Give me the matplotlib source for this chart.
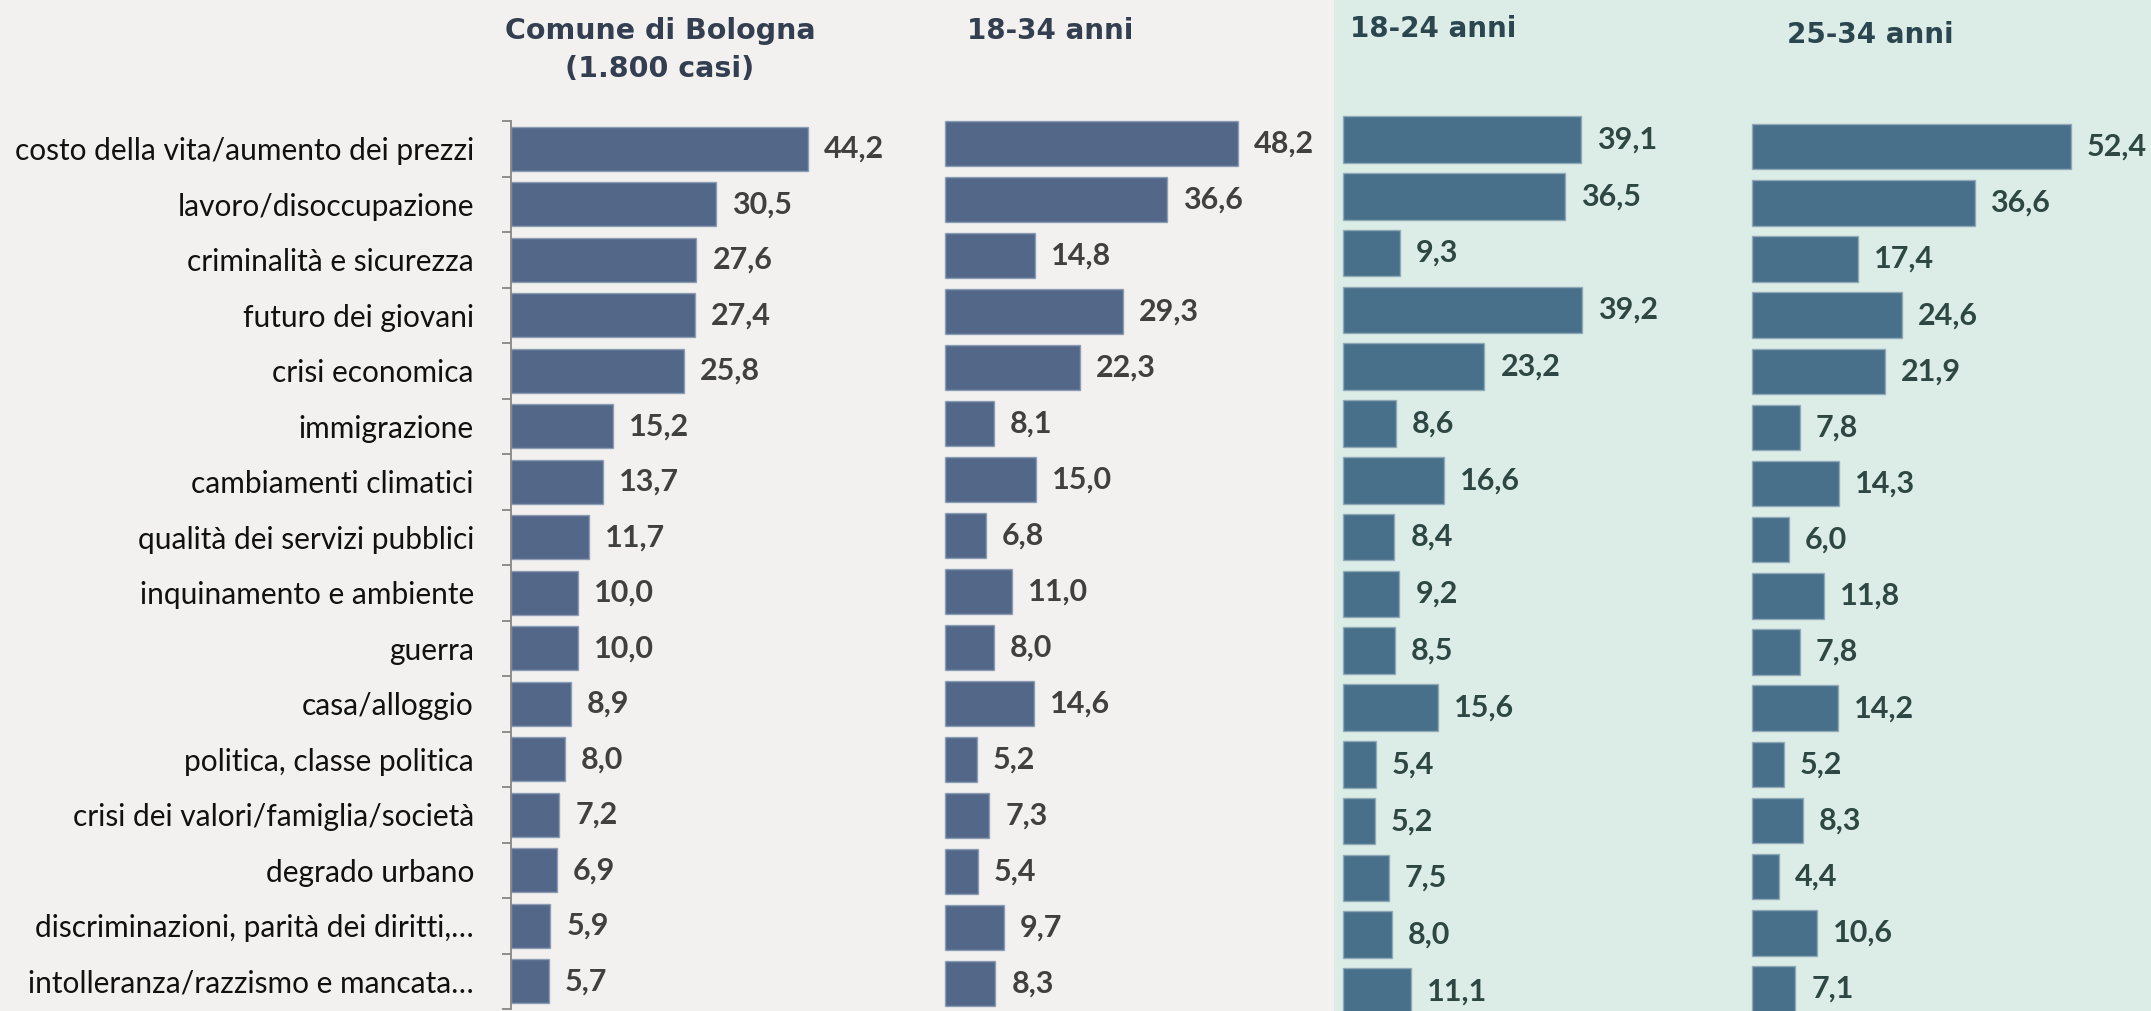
import matplotlib
matplotlib.use("Agg")
import matplotlib.pyplot as plt
from matplotlib.patches import Rectangle

categories = [
    "costo della vita/aumento dei prezzi",
    "lavoro/disoccupazione",
    "criminalità e sicurezza",
    "futuro dei giovani",
    "crisi economica",
    "immigrazione",
    "cambiamenti climatici",
    "qualità dei servizi pubblici",
    "inquinamento e ambiente",
    "guerra",
    "casa/alloggio",
    "politica, classe politica",
    "crisi dei valori/famiglia/società",
    "degrado urbano",
    "discriminazioni, parità dei diritti,…",
    "intolleranza/razzismo e mancata…",
]
bologna = [44.2, 30.5, 27.6, 27.4, 25.8, 15.2, 13.7, 11.7, 10.0, 10.0, 8.9, 8.0, 7.2, 6.9, 5.9, 5.7]
anni_18_34 = [48.2, 36.6, 14.8, 29.3, 22.3, 8.1, 15.0, 6.8, 11.0, 8.0, 14.6, 5.2, 7.3, 5.4, 9.7, 8.3]
anni_18_24 = [39.1, 36.5, 9.3, 39.2, 23.2, 8.6, 16.6, 8.4, 9.2, 8.5, 15.6, 5.4, 5.2, 7.5, 8.0, 11.1]
anni_25_34 = [52.4, 36.6, 17.4, 24.6, 21.9, 7.8, 14.3, 6.0, 11.8, 7.8, 14.2, 5.2, 8.3, 4.4, 10.6, 7.1]

W, H = 2151, 1011
fig = plt.figure(figsize=(W / 100, H / 100), dpi=100)
fig.patch.set_facecolor("#F2F1EF")
fig.patches.append(Rectangle((1334 / W, 0), (W - 1334) / W, 1, transform=fig.transFigure,
                             facecolor="#DCEDE7", edgecolor="none", zorder=-10))

def make_ax(x0, scale, ytop, ybot, xmax=60):
    width = scale * xmax
    ax = fig.add_axes([x0 / W, 1 - ybot / H, width / W, (ybot - ytop) / H])
    ax.set_facecolor("none")
    ax.set_zorder(1)
    ax.set_xlim(0, xmax)
    ax.set_ylim(len(categories) - 0.5, -0.5)
    for s in ["top", "right", "bottom", "left"]:
        ax.spines[s].set_visible(False)
    ax.set_xticks([])
    ax.set_yticks([])
    return ax

panels = [
    # values, x0, scale, ytop, ybot, bar height, bar color, edge, label color
    (bologna, 510.7, 6.73, 121, 1009, 0.80, "#536889", "#8C9DB5", "#404040"),
    (anni_18_34, 945, 6.07, 115.5, 1011.5, 0.80, "#536889", "#8C9DB5", "#404040"),
    (anni_18_24, 1343.3, 6.085, 111, 1020, 0.82, "#49708A", "#8FA9B8", "#2E4742"),
    (anni_25_34, 1752.1, 6.077, 118.6, 1017, 0.81, "#49708A", "#8FA9B8", "#2E4742"),
]

axes = []
ypos = list(range(len(categories)))
for vals, x0, sc, yt, yb, bh, col, ec, lc in panels:
    ax = make_ax(x0, sc, yt, yb)
    bars = ax.barh(ypos, vals, height=bh, color=col, edgecolor=ec, linewidth=1.0, clip_on=False)
    for b, v in zip(bars, vals):
        ax.annotate(f"{v:.1f}".replace(".", ","),
                    xy=(b.get_width(), b.get_y() + b.get_height() / 2),
                    xytext=(11.5, 0), textcoords="offset points",
                    ha="left", va="center", fontsize=22, fontweight="bold",
                    family="Lato", color=lc, annotation_clip=False)
    axes.append(ax)

# left axis of the first panel
ax0 = axes[0]
ax0.spines["left"].set_visible(True)
ax0.spines["left"].set_color("#868686")
ax0.spines["left"].set_linewidth(1.3)
ax0.set_yticks([i - 0.5 for i in range(len(categories) + 1)])
ax0.set_yticklabels([])
ax0.tick_params(axis="y", which="major", length=6.5, width=1.3, color="#868686", direction="out")
ax0.set_yticks(ypos, minor=True)
ax0.set_yticklabels(categories, minor=True, fontsize=21.5, family="Lato", color="#111111")
ax0.tick_params(axis="y", which="minor", length=0, pad=26.5)

# titles
tfont = dict(family="DejaVu Sans", fontweight="bold", ha="center", va="baseline")
fig.text(660 / W, 1 - 39 / H, "Comune di Bologna", color="#333F50", fontsize=20.5, **tfont)
fig.text(660 / W, 1 - 77 / H, "(1.800 casi)", color="#333F50", fontsize=20.5, **tfont)
fig.text(1050 / W, 1 - 39 / H, "18-34 anni", color="#333F50", fontsize=20, **tfont)
fig.text(1433 / W, 1 - 37 / H, "18-24 anni", color="#2C4650", fontsize=20, **tfont)
fig.text(1870 / W, 1 - 43 / H, "25-34 anni", color="#2C4650", fontsize=20, **tfont)

fig.savefig("out.png", dpi=100, facecolor=fig.get_facecolor())
